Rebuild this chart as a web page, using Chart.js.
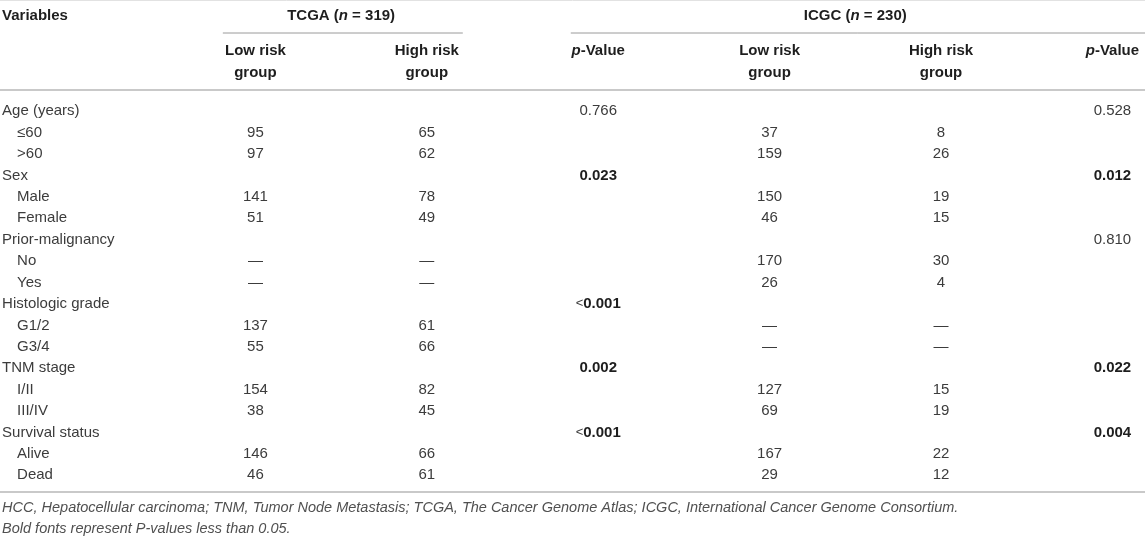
<!DOCTYPE html>
<html>
<head>
<meta charset="utf-8">
<script src="https://cdn.jsdelivr.net/npm/chart.js@4.4.1/dist/chart.umd.min.js"></script>
<style>
  html, body { margin: 0; padding: 0; background: #ffffff; }
  #wrap { position: relative; width: 1145px; height: 540px; }
</style>
</head>
<body>
<div id="wrap"><canvas id="c"></canvas></div>
<script>
// ---------------- DATA ----------------
const variables = ['Age (years)', 'Sex', 'Prior-malignancy', 'Histologic grade', 'TNM stage', 'Survival status'];
const levels = [['≤60', '>60'], ['Male', 'Female'], ['No', 'Yes'], ['G1/2', 'G3/4'], ['I/II', 'III/IV'], ['Alive', 'Dead']];

const cohortNames = ['TCGA', 'ICGC'];
const cohortSizes = [319, 230];
const groupHeaders = ['Low risk group', 'High risk group'];

// counts per level row (null = not available, shown as a dash)
const tcgaLow  = [95, 97, 141, 51, null, null, 137, 55, 154, 38, 146, 46];
const tcgaHigh = [65, 62, 78, 49, null, null, 61, 66, 82, 45, 66, 61];
const icgcLow  = [37, 159, 150, 46, 170, 26, null, null, 127, 69, 167, 29];
const icgcHigh = [8, 26, 19, 15, 30, 4, null, null, 15, 19, 22, 12];

// p-values per variable (null = not tested)
const tcgaP = ['0.766', '0.023', null, '<0.001', '0.002', '<0.001'];
const icgcP = ['0.528', '0.012', '0.810', null, '0.022', '0.004'];

const footnotes = [
  'HCC, Hepatocellular carcinoma; TNM, Tumor Node Metastasis; TCGA, The Cancer Genome Atlas; ICGC, International Cancer Genome Consortium.',
  'Bold fonts represent P-values less than 0.05.'
];

// ---------------- BUILD ROWS ----------------
const rowLabels = [];
const groupRows = [];
const levelRows = [];
variables.forEach((v, i) => {
  rowLabels.push(v); groupRows.push(v);
  levels[i].forEach(l => { rowLabels.push(l); levelRows.push(l); });
});

// ---------------- LAYOUT / STYLE ----------------
const FONT = "'Liberation Sans', Arial, Helvetica, sans-serif";
const BODY_COLOR = '#3c3c3c';
const HEAD_COLOR = '#1e1e1e';
const NOTE_COLOR = '#505050';
const RULE_COLOR = '#c9c9c9';
const FS = 15;
// column index on the x scale: 1 low, 2 high, 3 p (TCGA); 4 low, 5 high, 6 p (ICGC)
const COLS = { tcgaLow: 1, tcgaHigh: 2, tcgaP: 3, icgcLow: 4, icgcHigh: 5, icgcP: 6 };
const LABEL_X = -0.478;
const INDENT = 15;

function fnt(size, bold, italic) {
  return (italic ? 'italic ' : '') + (bold ? 'bold ' : '') + size + 'px ' + FONT;
}
function drawRuns(ctx, runs, x, yMid, align) {
  let total = 0;
  runs.forEach(r => { ctx.font = fnt(r.size || FS, r.b, r.i); r.w = ctx.measureText(r.t).width; total += r.w; });
  let cur = align === 'center' ? x - total / 2 : (align === 'right' ? x - total : x);
  ctx.textAlign = 'left';
  ctx.textBaseline = 'alphabetic';
  runs.forEach(r => {
    const size = r.size || FS;
    ctx.font = fnt(size, r.b, r.i);
    ctx.fillStyle = r.c || BODY_COLOR;
    ctx.fillText(r.t, cur, yMid + size * 0.36);
    cur += r.w;
  });
}
function hline(ctx, x1, x2, y, color, w) {
  ctx.save();
  ctx.strokeStyle = color; ctx.lineWidth = w;
  ctx.beginPath(); ctx.moveTo(x1, y); ctx.lineTo(x2, y); ctx.stroke();
  ctx.restore();
}
function pRuns(s) {
  const num = parseFloat(s.replace('<', ''));
  const bold = num < 0.05;
  if (s.startsWith('<')) {
    return [{ t: '<', b: false, size: 13 }, { t: s.slice(1), b: bold, c: bold ? HEAD_COLOR : BODY_COLOR }];
  }
  return [{ t: s, b: bold, c: bold ? HEAD_COLOR : BODY_COLOR }];
}

function countDataset(arr, col) {
  return { data: levelRows.map((r, k) => ({ x: col, y: r, v: arr[k], kind: 'count' })) };
}
function pDataset(arr, col) {
  return { data: groupRows.map((r, k) => ({ x: col, y: r, v: arr[k], kind: 'p' })) };
}
const datasets = [
  countDataset(tcgaLow, COLS.tcgaLow),
  countDataset(tcgaHigh, COLS.tcgaHigh),
  pDataset(tcgaP, COLS.tcgaP),
  countDataset(icgcLow, COLS.icgcLow),
  countDataset(icgcHigh, COLS.icgcHigh),
  pDataset(icgcP, COLS.icgcP),
  { data: rowLabels.map(r => ({ x: LABEL_X, y: r, v: r, kind: groupRows.includes(r) ? 'group' : 'level' })) }
].map(d => Object.assign(d, { pointRadius: 0, pointHoverRadius: 0, showLine: false }));

const tablePlugin = {
  id: 'tableText',
  afterDatasetsDraw(chart) {
    const ctx = chart.ctx;
    const xs = chart.scales.x;
    const W = chart.width;
    ctx.save();
    // header
    hline(ctx, 0, W, 0.5, '#e2e2e2', 1);
    drawRuns(ctx, [{ t: 'Variables', b: true, c: HEAD_COLOR }], xs.getPixelForValue(LABEL_X), 15, 'left');
    cohortNames.forEach((name, ci) => {
      const cx = xs.getPixelForValue(1.5 + ci * 3);
      drawRuns(ctx, [
        { t: name + ' (', b: true, c: HEAD_COLOR },
        { t: 'n', b: true, i: true, c: HEAD_COLOR },
        { t: ' = ' + cohortSizes[ci] + ')', b: true, c: HEAD_COLOR }
      ], cx, 15, 'center');
      groupHeaders.forEach((g, gi) => {
        const gx = xs.getPixelForValue(1 + ci * 3 + gi);
        const parts = g.split(' ');
        drawRuns(ctx, [{ t: parts.slice(0, 2).join(' '), b: true, c: HEAD_COLOR }], gx, 50, 'center');
        drawRuns(ctx, [{ t: parts.slice(2).join(' '), b: true, c: HEAD_COLOR }], gx, 72, 'center');
      });
      drawRuns(ctx, [{ t: 'p', b: true, i: true, c: HEAD_COLOR }, { t: '-Value', b: true, c: HEAD_COLOR }],
        xs.getPixelForValue(3 + ci * 3), 50, 'center');
    });
    hline(ctx, xs.getPixelForValue(0.81), xs.getPixelForValue(2.21), 33, '#9a9a9a', 1);
    hline(ctx, xs.getPixelForValue(2.84), W, 33, '#9a9a9a', 1);
    hline(ctx, 0, W, 90, RULE_COLOR, 2);

    // body cells from dataset elements
    chart.data.datasets.forEach((ds, di) => {
      const meta = chart.getDatasetMeta(di);
      meta.data.forEach((el, j) => {
        const raw = ds.data[j];
        if (raw.kind === 'count') {
          drawRuns(ctx, [{ t: raw.v === null ? '—' : String(raw.v) }], el.x, el.y, 'center');
        } else if (raw.kind === 'p') {
          if (raw.v !== null) drawRuns(ctx, pRuns(raw.v), el.x, el.y, 'center');
        } else if (raw.kind === 'group') {
          drawRuns(ctx, [{ t: raw.v }], el.x, el.y, 'left');
        } else {
          drawRuns(ctx, [{ t: raw.v }], el.x + INDENT, el.y, 'left');
        }
      });
    });
    hline(ctx, 0, W, 492, RULE_COLOR, 2);

    // footnotes
    footnotes.forEach((f, i) => {
      drawRuns(ctx, [{ t: f, i: true, size: 14.5, c: NOTE_COLOR }], xs.getPixelForValue(LABEL_X), 507 + i * 21, 'left');
    });
    ctx.restore();
  }
};

new Chart(document.getElementById('c'), {
  type: 'scatter',
  data: { datasets },
  options: {
    responsive: true,
    maintainAspectRatio: false,
    animation: false,
    events: [],
    layout: { padding: { top: 99.3, bottom: 55.3, left: 0, right: 0 } },
    plugins: { legend: { display: false }, tooltip: { enabled: false } },
    scales: {
      x: { type: 'linear', min: -0.49, max: 6.19, display: false },
      y: { type: 'category', labels: rowLabels, offset: true, display: false }
    }
  },
  plugins: [tablePlugin]
});
</script>
</body>
</html>
